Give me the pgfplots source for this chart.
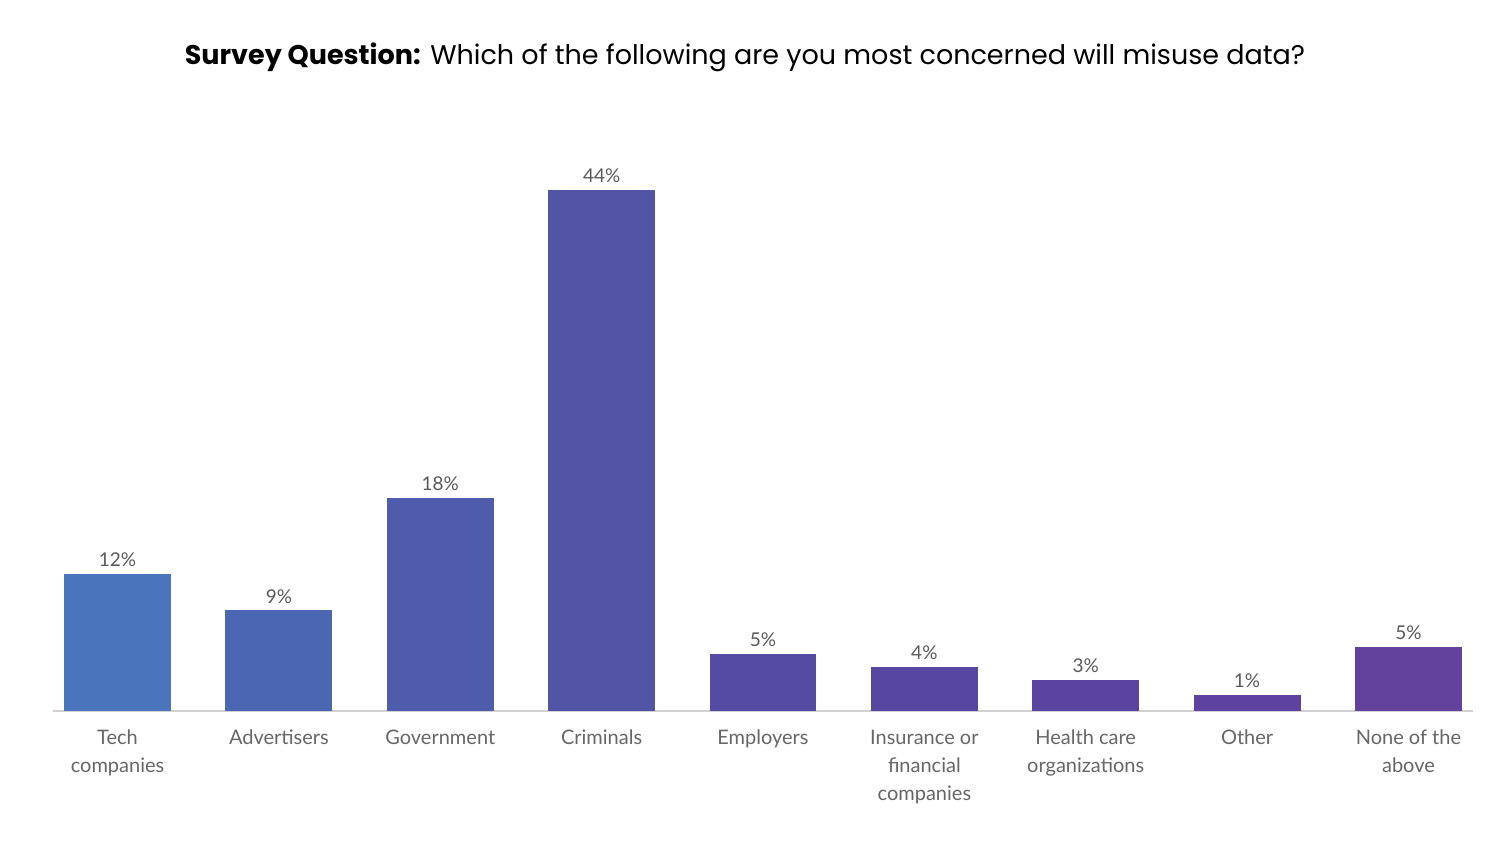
\documentclass[border=0pt]{standalone}
\usepackage{fontspec}
\setmainfont{Lato}
\newfontfamily\titlefont{Poppins}
\usepackage{pgfplots}
\pgfplotsset{compat=1.18}
\definecolor{c0}{HTML}{4A75BC}
\definecolor{c1}{HTML}{4C67B1}
\definecolor{c2}{HTML}{4F5BAB}
\definecolor{c3}{HTML}{5254A6}
\definecolor{c4}{HTML}{554BA2}
\definecolor{c5}{HTML}{5847A0}
\definecolor{c6}{HTML}{5A44A0}
\definecolor{c7}{HTML}{5D429F}
\definecolor{c8}{HTML}{62429C}
\begin{document}
\begin{tikzpicture}
\path[use as bounding box] (0,0) rectangle (751pt,422pt);
\node[font=\titlefont\fontsize{13.5}{16}\selectfont] at (372.5pt,393.5pt) {\textbf{Survey Question:} Which of the following are you most concerned will misuse data?};
\begin{axis}[
  at={(26.5pt,66.5pt)}, anchor=south west,
  scale only axis, width=710pt, height=296pt,
  xmin=-0.4, xmax=8.4, ymin=0, ymax=50,
  axis y line=none, axis x line*=bottom,
  x axis line style={draw=black!18, line width=0.6pt, -},
  xtick={0,...,8},
  xticklabels={Tech\\companies, Advertisers, Government, Criminals, Employers, Insurance or\\financial\\companies, Health care\\organizations, Other, None of the\\above},
  major tick length=0, ytick=\empty,
  x tick label style={align=center, font=\fontsize{10}{14}\selectfont, text=black!60, yshift=-6pt},
  ybar, bar width=0.663, bar shift=0pt,
  nodes near coords, point meta=explicit symbolic,
  every node near coord/.append style={font=\fontsize{9.5}{11}\selectfont, text=black!65},
  clip=false,
]
\addplot[draw=none, fill=c0] coordinates {(0,11.6) [12\%]};
\addplot[draw=none, fill=c1] coordinates {(1,8.5) [9\%]};
\addplot[draw=none, fill=c2] coordinates {(2,18.0) [18\%]};
\addplot[draw=none, fill=c3] coordinates {(3,44.0) [44\%]};
\addplot[draw=none, fill=c4] coordinates {(4,4.8) [5\%]};
\addplot[draw=none, fill=c5] coordinates {(5,3.7) [4\%]};
\addplot[draw=none, fill=c6] coordinates {(6,2.6) [3\%]};
\addplot[draw=none, fill=c7] coordinates {(7,1.35) [1\%]};
\addplot[draw=none, fill=c8] coordinates {(8,5.4) [5\%]};
\end{axis}
\end{tikzpicture}
\end{document}
